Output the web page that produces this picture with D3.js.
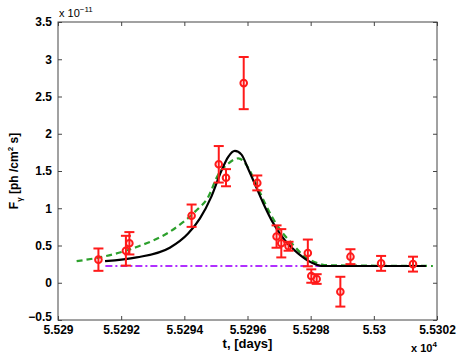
<!DOCTYPE html>
<html><head><meta charset="utf-8">
<script src="https://cdn.jsdelivr.net/npm/d3@7"></script>
<style>body{margin:0;background:#fff}svg{display:block}text{font-family:"Liberation Sans",Arial,sans-serif;font-weight:bold}</style>
</head><body>
<svg id="c" width="458" height="354"></svg>
<script>
// data in units: t [days], flux [1e-11 ph/cm^2 s]
const obsT   = [55291.28,55292.15,55292.26,55294.23,55295.09,55295.32,55295.88,55296.31,55296.92,55297.07,55297.30,55297.91,55298.02,55298.19,55298.94,55299.26,55300.23,55301.24];
const obsF   = [0.31,0.43,0.53,0.90,1.59,1.41,2.68,1.34,0.62,0.53,0.49,0.40,0.09,0.05,-0.12,0.35,0.26,0.25];
const obsErr = [0.15,0.20,0.15,0.15,0.245,0.115,0.35,0.10,0.15,0.19,0.06,0.18,0.09,0.065,0.20,0.10,0.10,0.10];

const fitBlackT = [55291.49,55292.49,55293.54,55294.12,55294.49,55294.86,55295.18,55295.39,55295.60,55295.81,55296.02,55296.29,55296.55,55296.76,55297.18,55297.60,55298.03,55298.34,55301.65];
const fitBlackF = [0.29,0.34,0.47,0.66,0.86,1.16,1.51,1.69,1.77,1.72,1.53,1.27,1.02,0.84,0.57,0.395,0.27,0.225,0.225];

const fitGreenT = [55290.59,55291.43,55292.49,55293.54,55294.34,55294.76,55295.07,55295.39,55295.71,55295.97,55296.29,55296.55,55296.97,55297.40,55297.82,55298.24,55298.55,55301.87];
const fitGreenF = [0.29,0.35,0.48,0.685,0.955,1.155,1.45,1.60,1.67,1.58,1.31,1.07,0.75,0.53,0.35,0.26,0.235,0.225];

const baseT = [55291.5,55301.65];
const baseF = [0.225,0.225];

const xTicks = [55290,55292,55294,55296,55298,55300,55302];
const xTickLabels = ["5.529","5.5292","5.5294","5.5296","5.5298","5.53","5.5302"];
const yTicks = [-0.5,0,0.5,1,1.5,2,2.5,3,3.5];
const yTickLabels = ["\u22120.5","0","0.5","1","1.5","2","2.5","3","3.5"];

const svg = d3.select("#c");
const L=58, R=437, T=22, B=320;
const x = d3.scaleLinear().domain([55290,55302]).range([L,R]);
const y = d3.scaleLinear().domain([-0.5,3.5]).range([B,T]);

// box
svg.append("rect").attr("x",L).attr("y",T).attr("width",R-L).attr("height",B-T)
  .attr("fill","none").attr("stroke","#444").attr("stroke-width",1);

// ticks (inward, all sides)
const tk = 4;
const axB = d3.axisBottom(x).tickValues(xTicks).tickSize(-tk).tickFormat((d,i)=>xTickLabels[i]).tickPadding(5);
const axT = d3.axisTop(x).tickValues(xTicks).tickSize(-tk).tickFormat("");
const axL = d3.axisLeft(y).tickValues(yTicks).tickSize(-tk).tickFormat((d,i)=>yTickLabels[i]).tickPadding(6);
const axR = d3.axisRight(y).tickValues(yTicks).tickSize(-tk).tickFormat("");
function style(g){g.select(".domain").remove();g.selectAll("line").attr("stroke","#444");g.selectAll("text").attr("fill","#000").style("font-size","12px").style("font-weight","bold");}
svg.append("g").attr("transform",`translate(0,${B})`).call(axB).call(style);
svg.append("g").attr("transform",`translate(0,${T})`).call(axT).call(style);
svg.append("g").attr("transform",`translate(${L},0)`).call(axL).call(style)
  .selectAll(".tick text").filter(d=>d===-0.5).attr("transform","translate(0,-3.5)");
svg.append("g").attr("transform",`translate(${R},0)`).call(axR).call(style);

// baseline
svg.append("path").datum(d3.zip(baseT,baseF)).attr("d",d3.line().x(d=>x(d[0])).y(d=>y(d[1]))).attr("fill","none")
  .attr("stroke","#b030ff").attr("stroke-width",2).attr("stroke-dasharray","7,3,2,3");
// green dashed
svg.append("path").datum(d3.zip(fitGreenT,fitGreenF)).attr("d",d3.line().x(d=>x(d[0])).y(d=>y(d[1])).curve(d3.curveMonotoneX)).attr("fill","none")
  .attr("stroke","#2ca02c").attr("stroke-width",2.2).attr("stroke-dasharray","6,4");
// black
svg.append("path").datum(d3.zip(fitBlackT,fitBlackF)).attr("d",d3.line().x(d=>x(d[0])).y(d=>y(d[1])).curve(d3.curveMonotoneX)).attr("fill","none")
  .attr("stroke","#000").attr("stroke-width",2.2);

// error bars
const red="#ff1a1a";
const pts = obsT.map((t,i)=>({t,f:obsF[i],e:obsErr[i]}));
const g = svg.append("g");
g.selectAll(".eb").data(pts).join("line").attr("x1",d=>x(d.t)).attr("x2",d=>x(d.t))
  .attr("y1",d=>y(d.f+d.e)).attr("y2",d=>y(d.f-d.e)).attr("stroke",red).attr("stroke-width",2);
[1,-1].forEach(s=>{
  g.selectAll(null).data(pts).join("line").attr("x1",d=>x(d.t)-5).attr("x2",d=>x(d.t)+5)
    .attr("y1",d=>y(d.f+s*d.e)).attr("y2",d=>y(d.f+s*d.e)).attr("stroke",red).attr("stroke-width",2);
});
g.selectAll("circle").data(pts).join("circle").attr("cx",d=>x(d.t)).attr("cy",d=>y(d.f)).attr("r",3.3)
  .attr("fill","none").attr("stroke",red).attr("stroke-width",2);

// exponent labels
const e1 = svg.append("text").attr("x",59).attr("y",17).style("font-size","11px").style("font-weight","normal");
e1.append("tspan").text("x 10");
e1.append("tspan").attr("dy",-5).style("font-size","8px").text("\u221211");
const e2 = svg.append("text").attr("x",411).attr("y",352).style("font-size","11px").style("font-weight","bold");
e2.append("tspan").text("x 10");
e2.append("tspan").attr("dy",-5).style("font-size","8px").text("4");

// axis labels
svg.append("text").attr("x",(L+R)/2).attr("y",348).attr("text-anchor","middle").style("font-size","13px").text("t, [days]");
const yl = svg.append("text").attr("transform",`translate(18,${(T+B)/2}) rotate(-90)`).attr("text-anchor","middle").style("font-size","12px");
yl.append("tspan").text("F");
yl.append("tspan").attr("dy",4).style("font-size","8px").text("\u03b3");
yl.append("tspan").attr("dy",-4).text(" [ph /cm");
yl.append("tspan").attr("dy",-5).style("font-size","8px").text("2");
yl.append("tspan").attr("dy",5).text(" s]");
</script>
</body></html>
